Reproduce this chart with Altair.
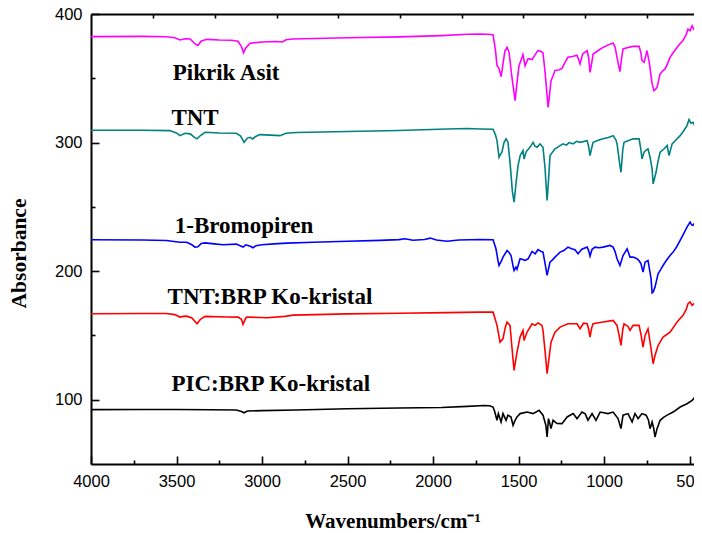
import altair as alt
import pandas as pd

# ---------------- data ----------------
series_names = ["Pikrik Asit", "TNT", "1-Bromopiren", "TNT:BRP Ko-kristal", "PIC:BRP Ko-kristal"]
series_colors = ["#FF00FF", "#008080", "#0000FF", "#FF0000", "#000000"]

pikrik_wn = [4000, 3700, 3560, 3510, 3480, 3450, 3420, 3390, 3375, 3355, 3320, 3250, 3180, 3140, 3120, 3108, 3095,
             3070, 3000, 2920, 2880, 2860, 2820, 2500, 2200, 1950, 1800, 1725, 1680, 1649,
             1635, 1626, 1615, 1602, 1590, 1580, 1567, 1555, 1540, 1520, 1508, 1497, 1474, 1462, 1444, 1421,
             1400, 1386, 1370, 1357, 1345, 1327, 1318, 1310, 1298, 1287, 1265, 1246, 1230, 1211, 1185, 1158,
             1140, 1125, 1099, 1090, 1082, 1072, 1064, 1040, 1006, 975, 947, 935, 924, 915, 907, 898, 889, 860,
             830, 795, 785, 778, 766, 755, 749, 735, 719, 708, 698, 690, 672, 655, 643, 630, 614, 595, 573, 555,
             538, 520, 509, 497, 485, 475, 468, 460, 450, 443, 439]
pikrik_abs = [382.4, 382.6, 382.3, 381.5, 379.8, 380.8, 380.6, 376.5, 375.5, 379.0, 380.3, 379.8, 379.6, 378.8, 374.5,
              369.8, 373.5, 377.2, 378.2, 378.6, 378.2, 380.0, 380.5, 381.5, 382.2, 383.2, 384.2, 384.5, 384.3, 383.8,
              372, 359.8, 358, 351.3, 362, 371, 374, 370, 352, 332.6, 348, 359.8, 368.4, 359.8, 365.3, 364.5,
              369, 371.5, 371, 369.7, 355, 327.4, 338, 348.2, 352, 356, 356.5, 357.7, 362, 366.3, 367, 368,
              361.1, 369, 371.5, 366, 354.6, 362, 368.9, 371, 374, 376, 377.5, 374, 366.3, 360, 355.2, 365, 372.8, 374,
              374.8, 374.8, 370, 363.7, 362.4, 368, 371.5, 362, 345.6, 340.4, 341.5, 343, 353.4, 356, 357.3, 361,
              366.3, 370, 374, 377, 379.3, 384, 388.3, 387, 390.9, 388, 388.5, 391, 389.6, 386, 381.8]

tnt_wn = [4000, 3700, 3540, 3500, 3480, 3450, 3420, 3395, 3380, 3360, 3333, 3250, 3150, 3125, 3105, 3085, 3070, 3055,
          3040, 3012, 2950, 2895, 2860, 2800, 2500, 2200, 1918, 1800, 1725, 1649,
          1635, 1626, 1614, 1605, 1597, 1585, 1573, 1562, 1550, 1536, 1526, 1515, 1503, 1490, 1474, 1468, 1455,
          1433, 1415, 1403, 1392, 1374, 1357, 1345, 1333, 1325, 1316, 1287, 1240, 1220, 1205, 1181, 1160, 1140,
          1099, 1090, 1082, 1072, 1064, 1030, 1006, 975, 947, 930, 924, 910, 901, 890, 883, 860, 830, 795, 785,
          778, 766, 755, 743, 730, 719, 713, 705, 696, 685, 672, 650, 631, 620, 602, 580, 555, 535, 515, 503,
          492, 480, 468, 456, 445, 439]
tnt_abs = [309.6, 309.6, 309.3, 307.5, 305.4, 307.2, 306.8, 304.0, 302.9, 305.5, 308, 307.5, 307.2, 305, 300.2, 303.5,
           304.1, 302.8, 304.5, 306.2, 305.8, 305.4, 307.2, 307.8, 308.6, 309.4, 310.6, 311, 310.6, 310.4,
           306, 301.5, 288.6, 291, 292.5, 300, 302.9, 300.5, 285, 262, 253.6, 268, 282.1, 290, 293.8, 287.3, 293,
           296.3, 300.2, 297, 296.3, 299, 296.3, 280, 254.9, 270, 289.9, 295.1, 299, 298, 300, 299, 301, 300.2,
           301.5, 297, 289.9, 296, 300.2, 302, 302.9, 304, 305.4, 302, 299, 285, 276.9, 295, 300.2, 301.5, 302.9,
           302.9, 295, 287.3, 292.5, 294, 295.1, 288, 279.6, 267.9, 272, 276.9, 285, 292.5, 295, 297.7, 289.9,
           299, 302, 305.4, 309, 313.2, 317.9, 315, 315.8, 313, 314.5, 312, 310.6]

brp_wn = [4000, 3700, 3560, 3480, 3440, 3410, 3392, 3375, 3355, 3333, 3280, 3228, 3150, 3125, 3111, 3095, 3082, 3065,
          3053, 3035, 3000, 2930, 2854, 2702, 2500, 2310, 2200, 2164, 2117, 2050, 2017, 1980, 1918, 1850, 1725, 1649,
          1632, 1620, 1614, 1600, 1591, 1567, 1555, 1544, 1532, 1526, 1515, 1509, 1491, 1475, 1462, 1444, 1421,
          1403, 1386, 1370, 1357, 1345, 1333, 1316, 1300, 1287, 1257, 1235, 1211, 1190, 1170, 1152, 1130, 1099,
          1090, 1082, 1070, 1053, 1030, 1006, 965, 947, 935, 924, 907, 889, 865, 848, 830, 807, 795, 784, 772,
          760, 743, 725, 719, 712, 702, 684, 670, 655, 640, 614, 596, 575, 555, 535, 515, 497, 488, 480, 470, 456,
          445, 439]
brp_abs = [224.4, 224.2, 223.8, 222.5, 222.5, 220.5, 218.7, 218.9, 221.5, 222, 221.2, 220.5, 221, 219.5, 218.7, 220.5,
           220, 219.2, 218.2, 219.8, 220.5, 221.2, 221.8, 222.5, 223.2, 223.9, 224.5, 225.2, 224, 224.6, 225.7, 224.2,
           223.3, 224.2, 224.6, 224.4,
           217.4, 208, 204.4, 208, 210.9, 216, 214.5, 212.2, 204, 200.5, 203.1, 201.5, 209.6, 209, 208.3, 209.6, 215.3,
           213.5, 216.7, 215.5, 214.8, 206, 196.7, 207, 209, 210.9, 214.8, 216, 218.7, 217.5, 216.7, 213.5, 217, 218.7,
           216, 211.7, 217, 218.7, 218.2, 218.7, 220, 218.7, 215, 209.6, 204.4, 212.2, 217.4, 210.9, 210.9, 209.6,
           208, 205.7, 199.2, 207, 208.3, 194.1, 183.2, 184, 187.6, 198, 201, 204.4, 207.5, 212.2, 214.8, 219, 223.9,
           229, 234.2, 238.2, 236, 235.6, 237.5, 236.1, 235, 233.1]

tntbrp_wn = [4000, 3700, 3560, 3510, 3480, 3460, 3440, 3410, 3380, 3360, 3333, 3205, 3140, 3120, 3111, 3095, 3088,
             2971, 2865, 2819, 2500, 2200, 1918, 1725, 1649,
             1635, 1626, 1608, 1591, 1578, 1567, 1550, 1538, 1526, 1509, 1491, 1474, 1468, 1450, 1421, 1403, 1386,
             1363, 1357, 1345, 1333, 1322, 1310, 1287, 1257, 1211, 1158, 1140, 1120, 1099, 1090, 1082, 1072, 1064,
             1006, 947, 924, 912, 901, 890, 883, 860, 848, 830, 795, 783, 772, 760, 743, 725, 713, 702, 684, 655,
             614, 573, 538, 520, 509, 497, 485, 468, 455, 444]
tntbrp_abs = [166.9, 167.1, 167.0, 166.2, 164.3, 164.8, 165, 163.6, 159.1, 162.5, 164.8, 164.3, 164.2, 162.5, 158.6,
              163.5, 164.3, 163.8, 164.8, 165.8, 166.8, 167.3, 167.7, 168.1, 168.1,
              162, 157.8, 144.8, 147.4, 156, 160.4, 157.8, 140, 122.8, 137, 148.7, 153.9, 146.1, 152.6, 159.1, 157.8,
              159.7, 157.8, 153.9, 138, 120.2, 132, 144.8, 152.6, 156.5, 159.1, 159.1, 155.2, 159.5, 159.1, 155,
              148.7, 156, 159.1, 160.4, 161.7, 157.8, 150, 142.2, 155, 159.1, 157, 153.9, 157.8, 157.8, 150, 140.9,
              150, 155.2, 139.6, 128, 134.4, 142.2, 148.7, 152.6, 160.4, 165.6, 170, 174.7, 176, 173.4, 175.5, 176.5,
              174.7]

picbrp_wn = [4000, 3700, 3500, 3300, 3150, 3120, 3105, 3085, 3000, 2800, 2500, 2200, 1950, 1800, 1700, 1670, 1649,
             1640, 1626, 1618, 1602, 1591, 1573, 1562, 1544, 1532, 1520, 1509, 1491, 1450, 1415, 1380, 1357, 1340,
             1333, 1325, 1318, 1310, 1298, 1275, 1246, 1216, 1181, 1158, 1129, 1110, 1094, 1070, 1047, 1023, 977,
             947, 918, 901, 889, 860, 836, 819, 801, 778, 754, 740, 731, 719, 710, 702, 690, 672, 650, 631, 596,
             555, 515, 485, 468, 460, 450, 433]
picbrp_abs = [92.3, 92.4, 92.4, 92.2, 92.0, 90.8, 89.8, 91.2, 91.5, 92, 93, 93.6, 94, 94.8, 95.5, 95.3, 94.3,
              91, 84, 89.2, 82.7, 89.2, 84, 88, 86.6, 80.1, 84, 86.6, 89.2, 90.4, 89.2, 91.8, 88, 80,
              71, 85.3, 82, 77.5, 84, 81.5, 81.4, 86.6, 89.2, 85.3, 90.4, 89, 84, 89.2, 84, 90.4, 89.2,
              90.4, 85.3, 77.5, 88, 89.2, 82.7, 89.2, 85.3, 89.2, 88, 84, 77.5, 82.7, 78, 71, 77.5, 84, 86.5, 88, 90.4,
              94.3, 96.9, 99.5, 102, 101.5, 100.8, 98.2]

# curve labels (text, anchor wavenumber, anchor absorbance)
label_texts = ["Pikrik Asit", "TNT", "1-Bromopiren", "TNT:BRP Ko-kristal", "PIC:BRP Ko-kristal"]
label_wn = [3522, 3530, 3510, 3552, 3530]
label_abs = [354, 319.5, 235.5, 180, 112.5]

# axis ticks
x_major = [4000, 3500, 3000, 2500, 2000, 1500, 1000, 500]
x_minor = [3750, 3250, 2750, 2250, 1750, 1250, 750]
x_top = [3637, 3275, 2912, 2555, 2193, 1830, 1474, 1111, 748]
y_major = [100, 200, 300, 400]
y_minor = [150, 250, 350]

# ---------------- build tables ----------------
rows = []
for name, wn, ab in zip(series_names,
                        [pikrik_wn, tnt_wn, brp_wn, tntbrp_wn, picbrp_wn],
                        [pikrik_abs, tnt_abs, brp_abs, tntbrp_abs, picbrp_abs]):
    for i, (w, a) in enumerate(zip(wn, ab)):
        rows.append({"series": name, "wn": w, "abs": a, "idx": i})
df = pd.DataFrame(rows)
labels_df = pd.DataFrame({"text": label_texts, "wn": label_wn, "abs": label_abs})
dummy = pd.DataFrame({"wn": [4000], "abs": [50]})

xscale = alt.Scale(domain=[4000, 474], nice=False, zero=False)
yscale = alt.Scale(domain=[50, 400], nice=False, zero=False)

SERIF = "Liberation Serif"
SANS = "Liberation Sans"

main_x_axis = alt.Axis(orient="bottom", values=x_major, format="d", ticks=False, tickSize=0,
                       labelFont=SANS, labelFontSize=16.5, labelColor="black", labelPadding=9,
                       labelFlush=False, labelOverlap=False, labelBound=False, grid=False,
                       domainColor="black", domainWidth=2,
                       title="Wavenumbers/cm\u207B\u00B9", titleFont=SERIF, titleFontSize=21,
                       titleFontWeight="bold", titleColor="black", titlePadding=21)
main_y_axis = alt.Axis(orient="left", values=y_major, format="d", ticks=False, tickSize=0,
                       labelFont=SANS, labelFontSize=16.5, labelColor="black", labelPadding=9,
                       labelFlush=False, labelOverlap=False, grid=False,
                       domainColor="black", domainWidth=2,
                       title="Absorbance", titleFont=SERIF, titleFontSize=21.5, titleFontWeight="bold",
                       titleColor="black", titleX=-61, titleY=239, titleAngle=270)

lines = alt.Chart(df).mark_line(strokeWidth=1.6, clip=True).encode(
    x=alt.X("wn:Q", scale=xscale, axis=main_x_axis),
    y=alt.Y("abs:Q", scale=yscale, axis=main_y_axis),
    color=alt.Color("series:N", scale=alt.Scale(domain=series_names, range=series_colors), legend=None),
    order=alt.Order("idx:Q"),
)


def tick_layer(xvals, yvals, xorient, size, offset_x, offset_y, show_domain=False, show_ticks=True):
    xa = alt.Axis(orient=xorient, values=xvals, tickSize=size, offset=offset_x, labels=False,
                  domain=show_domain, domainColor="black", domainWidth=2, ticks=show_ticks,
                  grid=False, tickColor="black", tickWidth=1.6, title=None)
    if yvals is None:
        ya = None
    else:
        ya = alt.Axis(orient="left", values=yvals, tickSize=size, offset=offset_y, labels=False,
                      domain=False, grid=False, tickColor="black", tickWidth=1.6, title=None)
    return alt.Chart(dummy).mark_point(opacity=0).encode(
        x=alt.X("wn:Q", scale=xscale, axis=xa),
        y=alt.Y("abs:Q", scale=yscale, axis=ya),
    )


major = tick_layer(x_major, y_major, "bottom", 8, -8, -8)
minor = tick_layer(x_minor, y_minor, "bottom", 4, -4, -4)
top_frame = tick_layer(x_top, None, "top", 0, 0, 0, show_domain=True, show_ticks=False)
top_ticks = tick_layer(x_top, None, "top", 4, -4, 0)

texts = alt.Chart(labels_df).mark_text(font=SERIF, fontSize=23, fontWeight="bold", align="left",
                                       baseline="middle", color="black").encode(
    x=alt.X("wn:Q", scale=xscale, axis=None),
    y=alt.Y("abs:Q", scale=yscale, axis=None),
    text="text:N",
)

chart = alt.layer(lines, major, minor, top_frame, top_ticks, texts).resolve_axis(
    x="independent", y="independent"
).properties(
    width=603, height=450,
    autosize=alt.AutoSizeParams(type="none"),
    padding={"left": 83, "top": 6, "right": 0, "bottom": 75},
    background="white",
).configure_view(stroke=None)

chart.save("out.html", embed_options={"renderer": "svg", "actions": False})
